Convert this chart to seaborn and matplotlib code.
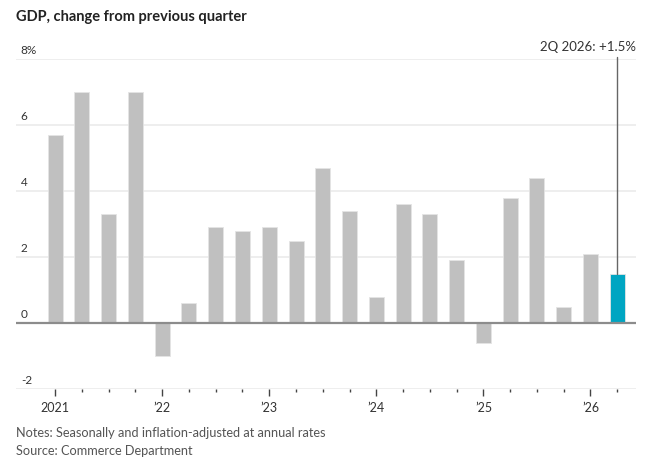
import matplotlib
matplotlib.use("Agg")
import matplotlib.pyplot as plt
import seaborn as sns
import pandas as pd
import numpy as np
from matplotlib.transforms import blended_transform_factory

quarters = ["1Q 2021", "2Q 2021", "3Q 2021", "4Q 2021",
            "1Q 2022", "2Q 2022", "3Q 2022", "4Q 2022",
            "1Q 2023", "2Q 2023", "3Q 2023", "4Q 2023",
            "1Q 2024", "2Q 2024", "3Q 2024", "4Q 2024",
            "1Q 2025", "2Q 2025", "3Q 2025", "4Q 2025",
            "1Q 2026", "2Q 2026"]
gdp_change = [5.7, 7.0, 3.3, 7.0,
              -1.0, 0.6, 2.9, 2.8,
              2.9, 2.5, 4.7, 3.4,
              0.8, 3.6, 3.3, 1.9,
              -0.6, 3.8, 4.4, 0.5,
              2.1, 1.5]
year_labels = ["2021", "\u201922", "\u201923", "\u201924", "\u201925", "\u201926"]
y_ticks = [-2, 0, 2, 4, 6, 8]
y_tick_labels = ["-2", "0", "2", "4", "6", "8%"]
title = "GDP, change from previous quarter"
annotation = "2Q 2026: +1.5%"
notes = "Notes: Seasonally and inflation-adjusted at annual rates"
source = "Source: Commerce Department"

GRAY = "#c0c0c0"
TEAL = "#00a5c2"
FONT = ["Lato", "DejaVu Sans"]

sns.set_theme(style="white")
plt.rcParams["font.family"] = FONT

df = pd.DataFrame({"quarter": quarters, "value": gdp_change})
colors = [GRAY] * (len(quarters) - 1) + [TEAL]

W, H = 659, 459
fig = plt.figure(figsize=(W / 100, H / 100), dpi=100)
ax_left, ax_right = 16 / W, 636 / W
ax_top, ax_bottom = 59 / H, 389.3 / H
ax = fig.add_axes([ax_left, 1 - ax_bottom, ax_right - ax_left, ax_bottom - ax_top])

sns.barplot(data=df, x="quarter", y="value", hue="quarter", palette=colors,
            legend=False, width=0.56, ax=ax, saturation=1,
            edgecolor="#e4e4e4", linewidth=0.6, zorder=3)

ax.set_xlim(-1.46, 21.7)
ax.set_ylim(-2, 8)

for s in ax.spines.values():
    s.set_visible(False)

# gridlines
for yv in y_ticks:
    if yv == 0:
        ax.axhline(0, color="#8c8c8c", lw=1.6, zorder=4)
    else:
        ax.axhline(yv, color="#eeeeee", lw=1.4, zorder=1)

# y labels above gridlines
ax.set_yticks([])
trans = blended_transform_factory(ax.transAxes, ax.transData)
for yv, lab in zip(y_ticks, y_tick_labels):
    ax.annotate(lab, xy=(0, yv), xycoords=trans, xytext=(3.5, 2.5),
                textcoords="offset points", ha="left", va="bottom",
                fontsize=8.5, color="#333333")

# x ticks
n = len(quarters)
major = [i for i in range(n) if quarters[i].startswith("1Q")]
minor = [i for i in range(n) if not quarters[i].startswith("1Q")]
ax.set_xticks(major)
ax.set_xticklabels(year_labels, fontsize=9, color="#333333")
ax.set_xticks(minor, minor=True)
ax.tick_params(axis="x", which="major", length=5, width=1, color="#444444",
               direction="out", pad=4, bottom=True)
ax.tick_params(axis="x", which="minor", length=2.5, width=1, color="#444444",
               direction="out", bottom=True)
ax.set_xlabel("")
ax.set_ylabel("")

# annotation for last bar
last = n - 1
ax.plot([last, last], [gdp_change[last], 8.06], color="#666666", lw=1,
        zorder=5, clip_on=False)
ax.annotate(annotation, xy=(1, 8), xycoords=trans, xytext=(0, 4),
            textcoords="offset points", ha="right", va="bottom",
            fontsize=9.5, color="#333333", annotation_clip=False)

fig.text(16 / W, 1 - 17 / H, title, fontsize=10.5, fontweight="bold",
         color="#222222", ha="left", va="center")
fig.text(16 / W, 1 - 433 / H, notes, fontsize=9.2, color="#555555",
         ha="left", va="center")
fig.text(16 / W, 1 - 451 / H, source, fontsize=9.2, color="#555555",
         ha="left", va="center")

fig.savefig("out.png", dpi=100, facecolor="white")
